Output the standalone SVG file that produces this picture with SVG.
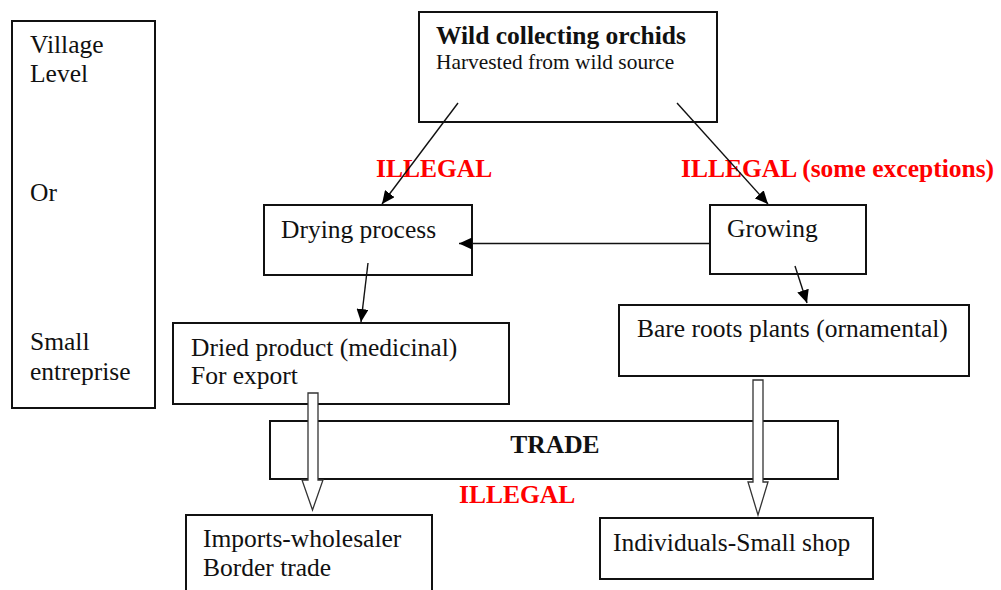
<svg xmlns="http://www.w3.org/2000/svg" width="1001" height="590" viewBox="0 0 1001 590">
<style>
.box{fill:#fff;stroke:#111;stroke-width:2}
.t{font-family:"Liberation Serif","Times New Roman",serif;font-size:25.5px;fill:#111}
.b{font-weight:bold}
.s{font-size:21.4px}
.red{font-family:"Liberation Serif","Times New Roman",serif;font-size:25.5px;font-weight:bold;fill:#ff0000}
.ln{stroke:#111;stroke-width:1.4;fill:none}
.hollow{fill:#fff;stroke:#333;stroke-width:1.3}
</style>
<defs>
<marker id="ah" markerUnits="userSpaceOnUse" markerWidth="14" markerHeight="12" refX="13" refY="6" orient="auto">
<path d="M0,0 L13,6 L0,12 Z" fill="#000"/>
</marker>
</defs>
<rect width="1001" height="590" fill="#fff"/>

<g id="level">
<rect class="box" x="12" y="21" width="143" height="387"/>
<text class="t" x="30" y="53">Village</text>
<text class="t" x="30" y="82">Level</text>
<text class="t" x="30" y="201">Or</text>
<text class="t" x="30" y="350">Small</text>
<text class="t" x="30" y="380">entreprise</text>
</g>

<g id="wild">
<rect class="box" x="419" y="12" width="298" height="110"/>
<text class="t b" x="436" y="44">Wild collecting orchids</text>
<text class="t s" x="436" y="69">Harvested from wild source</text>
</g>

<g id="drying">
<rect class="box" x="264" y="205" width="208" height="70"/>
<text class="t" x="281" y="238">Drying process</text>
</g>

<g id="growing">
<rect class="box" x="710" y="205" width="156" height="69"/>
<text class="t" x="727" y="237">Growing</text>
</g>

<g id="dried">
<rect class="box" x="173" y="323" width="336" height="81"/>
<text class="t" x="191" y="356">Dried product (medicinal)</text>
<text class="t" x="191" y="384">For export</text>
</g>

<g id="bare">
<rect class="box" x="619" y="305" width="350" height="71"/>
<text class="t" x="637" y="337">Bare roots plants (ornamental)</text>
</g>

<g id="trade">
<rect class="box" x="270" y="421" width="568" height="58"/>
<text class="t b" x="555" y="453" text-anchor="middle">TRADE</text>
</g>

<g id="imports">
<rect class="box" x="186" y="515" width="246" height="80"/>
<text class="t" x="203" y="547">Imports-wholesaler</text>
<text class="t" x="203" y="576">Border trade</text>
</g>

<g id="individuals">
<rect class="box" x="600" y="518" width="273" height="61"/>
<text class="t" x="613" y="551">Individuals-Small shop</text>
</g>

<g id="labels">
<text class="red" x="376" y="177">ILLEGAL</text>
<text class="red" x="681" y="177">ILLEGAL (some exceptions)</text>
<text class="red" x="459" y="503">ILLEGAL</text>
</g>

<g id="connectors">
<line class="ln" x1="458" y1="103" x2="382" y2="204" marker-end="url(#ah)"/>
<line class="ln" x1="677" y1="103" x2="768" y2="204" marker-end="url(#ah)"/>
<line class="ln" x1="710" y1="243.5" x2="459" y2="243.5" marker-end="url(#ah)"/>
<line class="ln" x1="368" y1="263" x2="361" y2="322" marker-end="url(#ah)"/>
<line class="ln" x1="795" y1="266" x2="807" y2="303" marker-end="url(#ah)"/>
<polygon class="hollow" points="308,393 318,393 318,480 323,480 312.5,510 302,480 308,480"/>
<polygon class="hollow" points="753,380 763,380 763,482 768,482 758,515 748,482 753,482"/>
</g>
</svg>
